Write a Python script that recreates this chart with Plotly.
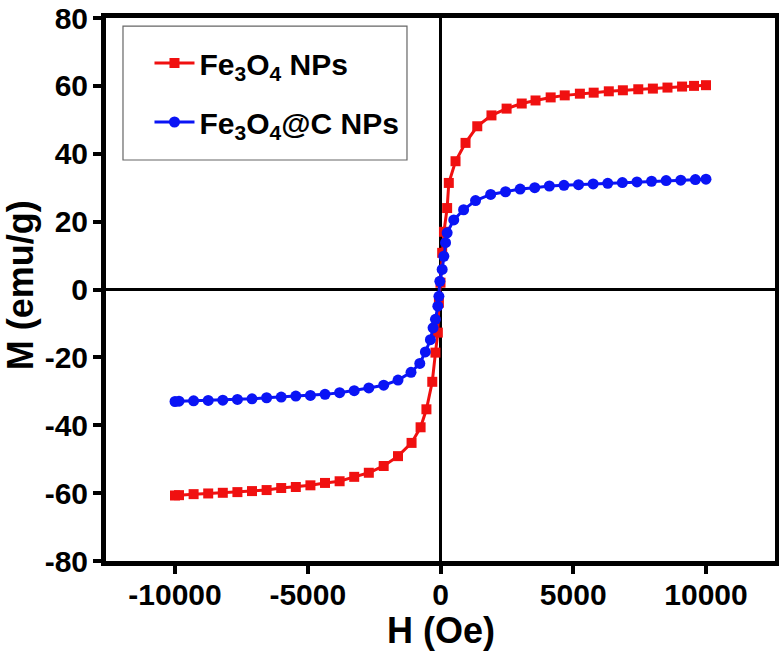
import plotly.graph_objects as go

# Fe3O4 NPs (red squares)
h_fe3o4 = [-10000, -9850, -9300, -8750, -8200, -7650, -7100, -6550, -6000, -5450,
           -4900, -4350, -3800, -3250, -2700, -2140, -1600, -1090, -750, -530,
           -310, -190, -100, -60, 0, 63, 130, 250, 313, 566, 943, 1385, 1920,
           2490, 3060, 3580, 4150, 4680, 5250, 5770, 6340, 6870, 7450, 8000,
           8550, 9100, 9550, 10000]
m_fe3o4 = [-60.7, -60.6, -60.3, -60.1, -59.9, -59.7, -59.4, -59.1, -58.5, -58.2,
           -57.7, -57.0, -56.5, -55.2, -54.0, -52.0, -49.1, -45.2, -40.6, -35.3,
           -27.2, -18.6, -12.7, -3.9, 2.0, 10.8, 17.0, 24.0, 31.4, 37.8, 43.2, 48.1, 51.3,
           53.3, 54.8, 55.7, 56.6, 57.2, 57.7, 58.0, 58.4, 58.7, 59.0, 59.2,
           59.5, 59.8, 60.0, 60.2]

# Fe3O4@C NPs (blue circles)
h_fe3o4_c = [-10000, -9850, -9300, -8750, -8200, -7650, -7100, -6550, -6000, -5450,
             -4900, -4350, -3800, -3250, -2700, -2140, -1600, -1110, -780, -570,
             -380, -280, -190, -100, -60, -25, 63, 125, 190, 250, 500, 870, 1320,
             1890, 2450, 3000, 3550, 4100, 4650, 5200, 5750, 6300, 6850, 7400,
             7950, 8500, 9050, 9600, 10000]
m_fe3o4_c = [-33.0, -32.9, -32.8, -32.7, -32.6, -32.4, -32.2, -31.9, -31.7, -31.4,
             -31.2, -30.9, -30.4, -29.8, -29.0, -28.2, -26.7, -24.4, -21.8, -18.4,
             -14.8, -11.3, -8.8, -4.9, -2.0, 2.4, 5.9, 9.8, 13.8, 16.7, 20.5, 23.5, 26.2,
             28.0, 28.8, 29.6, 30.0, 30.5, 30.7, 30.9, 31.1, 31.3, 31.5, 31.7,
             31.9, 32.1, 32.2, 32.4, 32.5]

x_ticks = [-10000, -5000, 0, 5000, 10000]
x_labels = ["-10000", "-5000", "0", "5000", "10000"]
y_ticks = [-80, -60, -40, -20, 0, 20, 40, 60, 80]
y_labels = ["-80", "-60", "-40", "-20", "0", "20", "40", "60", "80"]

FONT = "Liberation Sans, Arial, sans-serif"

fig = go.Figure()
fig.add_trace(go.Scatter(
    x=h_fe3o4, y=m_fe3o4, mode="lines+markers",
    name="<b>Fe<sub>3</sub>O<sub>4</sub> NPs</b>", legendgroup="a",
    line=dict(color="#f01010", width=3),
    marker=dict(symbol="square", size=10, color="#f01010"),
))
fig.add_trace(go.Scatter(
    x=h_fe3o4_c, y=m_fe3o4_c, mode="lines+markers",
    name="<b>Fe<sub>3</sub>O<sub>4</sub>@C NPs</b>", legendgroup="b",
    line=dict(color="#0a14f5", width=3),
    marker=dict(symbol="circle", size=11, color="#0a14f5"),
))

axis_common = dict(
    showline=True, linecolor="black", linewidth=5, mirror=True,
    ticks="outside", ticklen=8, tickwidth=4, tickcolor="black",
    showgrid=False, zeroline=True, zerolinecolor="black", zerolinewidth=3,
    tickfont=dict(family=FONT, size=30, color="black"),
    automargin=False,
)

fig.update_xaxes(range=[-12600, 12600], tickvals=x_ticks,
                 ticktext=["<b>%s</b>" % t for t in x_labels],
                 ticklabelstandoff=-5, **axis_common)
fig.update_yaxes(range=[-80, 80], tickvals=y_ticks,
                 ticktext=["<b>%s</b>" % t for t in y_labels],
                 ticklabelstandoff=-1, **axis_common)

# axis titles
fig.add_annotation(text="<b>H (Oe)</b>", xref="paper", yref="paper", x=0.5, y=0,
                   yshift=-69, yanchor="middle", showarrow=False,
                   font=dict(family=FONT, size=36, color="black"))
fig.add_annotation(text="<b>M (emu/g)</b>", xref="paper", yref="paper", x=0, y=0.508,
                   xshift=-86, xanchor="center", yanchor="middle", textangle=-90,
                   showarrow=False, font=dict(family=FONT, size=36, color="black"))

# legend frame
fig.add_shape(type="rect", xref="paper", yref="paper",
              x0=0.0254, x1=0.4499, y0=0.7385, y1=0.985,
              line=dict(color="#666", width=1.2), fillcolor="white", layer="below")

fig.update_layout(
    width=779, height=654,
    margin=dict(l=106, r=4, t=18, b=93),
    plot_bgcolor="white", paper_bgcolor="white",
    font=dict(family=FONT, color="black"),
    showlegend=True,
    legend=dict(
        x=0.065, y=0.965, xanchor="left", yanchor="top",
        bgcolor="rgba(0,0,0,0)", borderwidth=0,
        font=dict(family=FONT, size=30, color="black"),
        tracegroupgap=17, itemwidth=40,
    ),
)

# drop the page's default body margin so the figure fills the window
fig.write_html("out.html", config={"displayModeBar": False},
               post_script="document.body.style.margin='0px';")
